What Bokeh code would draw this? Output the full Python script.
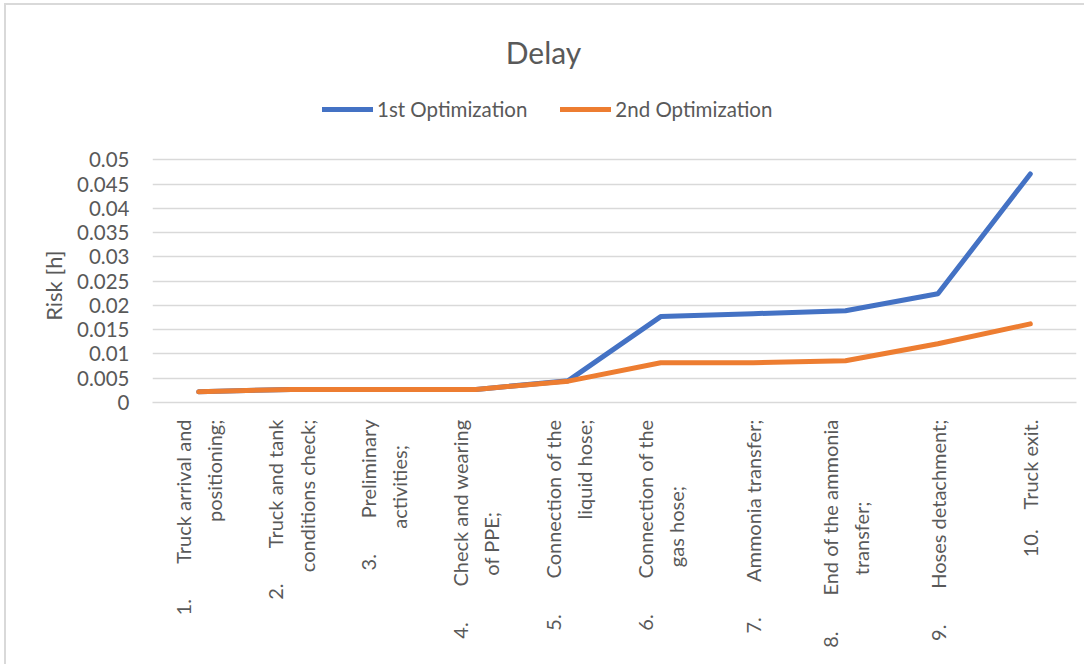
import math
from bokeh.plotting import figure
from bokeh.models import (Range1d, FixedTicker, CustomJSTickFormatter, Legend,
                          LegendItem, Label)
from bokeh.embed import file_html
from bokeh.resources import INLINE

NB = "\u00a0"

categories = [
    "1." + NB * 7 + "Truck arrival and\npositioning;",
    "2." + NB * 7 + "Truck and tank\nconditions check;",
    "3." + NB * 7 + "Preliminary\nactivities;" + NB * 5,
    "4." + NB * 7 + "Check and wearing\nof PPE;" + NB * 18,
    "5." + NB * 7 + "Connection of the\nliquid hose;",
    "6." + NB * 7 + "Connection of the\ngas hose;" + NB * 13,
    "7." + NB * 7 + "Ammonia transfer;",
    "8." + NB * 7 + "End of the ammonia\ntransfer;" + NB * 16,
    "9." + NB * 7 + "Hoses detachment;",
    "10." + NB * 4 + "Truck exit.",
]
first_opt = [0.0022, 0.0027, 0.0027, 0.0027, 0.0045, 0.0177, 0.0183, 0.0189, 0.0224, 0.0471]
second_opt = [0.0022, 0.0027, 0.0027, 0.0027, 0.0044, 0.0082, 0.0082, 0.0086, 0.0121, 0.0162]
y_ticks = [0, 0.005, 0.01, 0.015, 0.02, 0.025, 0.03, 0.035, 0.04, 0.045, 0.05]
series_names = ["1st Optimization", "2nd Optimization"]
title_text = "Delay"
y_label = "Risk [h]"

FONT = "Lato"
GRAY = "#595959"
GRID = "#D9D9D9"
BLUE = "#4472C4"
ORANGE = "#ED7D31"

# plot frame extends up to the chart top so that title and legend sit inside it;
# the value axis keeps 0..0.05 at the same pixel positions as the reference.
FRAME_H = 397
AXIS_PX = 242.6
y_end = y_ticks[-1] * FRAME_H / AXIS_PX

p = figure(x_range=categories, y_range=Range1d(0, y_end),
           frame_width=924, frame_height=FRAME_H,
           min_border_left=146, min_border_right=8,
           min_border_top=0, min_border_bottom=262,
           output_backend="svg", toolbar_location=None)
p.styles = {"border-left": "2px solid #D9D9D9", "border-top": "2px solid #D9D9D9",
            "margin-left": "4px", "margin-top": "3px"}
p.outline_line_color = None
p.background_fill_color = "white"
p.border_fill_color = "white"

p.xgrid.grid_line_color = None
p.ygrid.grid_line_color = GRID
p.ygrid.grid_line_width = 1.7

# y axis
p.yaxis.ticker = FixedTicker(ticks=y_ticks)
p.yaxis.formatter = CustomJSTickFormatter(code="return Number(tick.toFixed(4)).toString();")
p.yaxis.axis_line_color = None
p.yaxis.major_tick_line_color = None
p.yaxis.minor_tick_line_color = None
p.yaxis.major_tick_out = 0
p.yaxis.major_tick_in = 0
p.yaxis.major_label_standoff = 23
p.yaxis.major_label_text_font = FONT
p.yaxis.major_label_text_font_size = "20.5px"
p.yaxis.major_label_text_color = GRAY
p.yaxis.axis_label = y_label + NB * 29
p.yaxis.axis_label_text_font = FONT
p.yaxis.axis_label_text_font_size = "22px"
p.yaxis.axis_label_text_font_style = "normal"
p.yaxis.axis_label_text_color = GRAY
p.yaxis.axis_label_standoff = 7

# x axis
p.xaxis.axis_line_color = GRID
p.xaxis.axis_line_width = 1.7
p.xaxis.major_tick_line_color = None
p.xaxis.minor_tick_line_color = None
p.xaxis.major_tick_out = 0
p.xaxis.major_tick_in = 0
p.xaxis.major_label_orientation = math.pi / 2
p.xaxis.major_label_standoff = 17
p.xaxis.major_label_text_font = FONT
p.xaxis.major_label_text_font_size = "20px"
p.xaxis.major_label_text_color = GRAY
p.xaxis.major_label_text_line_height = 1.3

r1 = p.line(categories, first_opt, line_color=BLUE, line_width=5,
            line_cap="round", line_join="round")
r2 = p.line(categories, second_opt, line_color=ORANGE, line_width=5,
            line_cap="round", line_join="round")

legend = Legend(items=[LegendItem(label=series_names[0], renderers=[r1]),
                       LegendItem(label=series_names[1], renderers=[r2])],
                orientation="horizontal", location=(170, 281),
                padding=0, margin=0, spacing=33, label_standoff=4,
                glyph_width=51, glyph_height=22,
                border_line_color=None, background_fill_alpha=0)
legend.label_text_font = FONT
legend.label_text_font_size = "20.5px"
legend.label_text_color = GRAY
p.add_layout(legend, "center")

title = Label(x=391, y=351, x_units="screen", y_units="screen", text=title_text,
              text_align="center", text_baseline="alphabetic",
              text_font=FONT, text_font_size="30px", text_color=GRAY)
p.add_layout(title)

open("out.html", "w").write(file_html(p, INLINE))
